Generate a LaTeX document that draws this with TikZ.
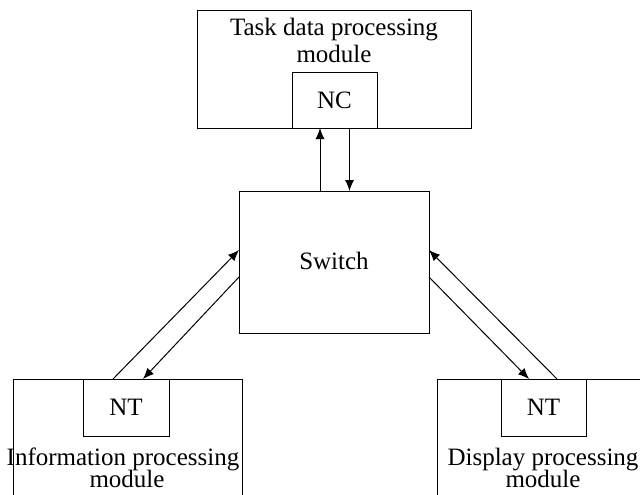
\documentclass[tikz,border=0pt]{standalone}
\usepackage{fontspec}
\setmainfont{Liberation Serif}
\usetikzlibrary{arrows.meta}
\begin{document}
\begin{tikzpicture}[x=0.5pt,y=-0.5pt,
  box/.style={draw, line width=0.5pt, inner sep=0pt, outer sep=0pt},
  lbl/.style={font=\fontsize{12.5}{14}\selectfont, inner sep=0pt, anchor=base},
  arr/.style={-{Latex[length=5.5pt,width=4.5pt]}, line width=0.5pt}]
\useasboundingbox (0,0) rectangle (640,494);
\clip (0,0) rectangle (640,494);
% boxes
\node[box, minimum width=137pt, minimum height=59pt] (task) at (334,69) {};
\node[box, minimum width=42.5pt, minimum height=28pt] (nc) at (334.5,100) {};
\node[box, minimum width=95pt, minimum height=71pt] (sw) at (334,262) {};
\node[box, minimum width=114.5pt, minimum height=75pt] (info) at (127.5,454) {};
\node[box, minimum width=114.5pt, minimum height=75pt] (disp) at (551.5,454) {};
\node[box, minimum width=43pt, minimum height=28.5pt] (ntl) at (126,407.5) {};
\node[box, minimum width=42.5pt, minimum height=28.5pt] (ntr) at (543.5,407.5) {};
% labels
\node[lbl] (t1) at (334,35) {Task data processing};
\node[lbl] (t2) at (334,62) {module};
\node[lbl] (ncl) at (334.5,108) {NC};
\node[lbl] (swl) at (334,269) {Switch};
\node[lbl] (ntll) at (126,415) {NT};
\node[lbl] (ntrl) at (543.5,415) {NT};
\node[lbl] (i1) at (123,465) {Information processing};
\node[lbl] (i2) at (127,487) {module};
\node[lbl] (d1) at (543,465) {Display processing};
\node[lbl] (d2) at (543,487) {module};
% connector end points
\path ([xshift=-7pt]sw.north) coordinate (upS)
      ([xshift=7.5pt]nc.south) coordinate (dnS)
      ([xshift=15pt]ntl.north west) coordinate (la1)
      ([xshift=30pt]ntl.north west) coordinate (la2)
      ([yshift=6pt]sw.west) coordinate (lb1)
      ([yshift=-7.5pt]sw.west) coordinate (lb2)
      ([xshift=28pt]ntr.north west) coordinate (ra1)
      ([xshift=14pt]ntr.north west) coordinate (ra2)
      ([yshift=6pt]sw.east) coordinate (rb1)
      ([yshift=-7.5pt]sw.east) coordinate (rb2);
\draw[arr] (upS) -- (upS |- nc.south);
\draw[arr] (dnS) -- (dnS |- sw.north);
\draw[arr] (la1) -- (lb1);
\draw[arr] (lb2) -- (la2);
\draw[arr] (ra1) -- (rb1);
\draw[arr] (rb2) -- (ra2);
\end{tikzpicture}
\end{document}
